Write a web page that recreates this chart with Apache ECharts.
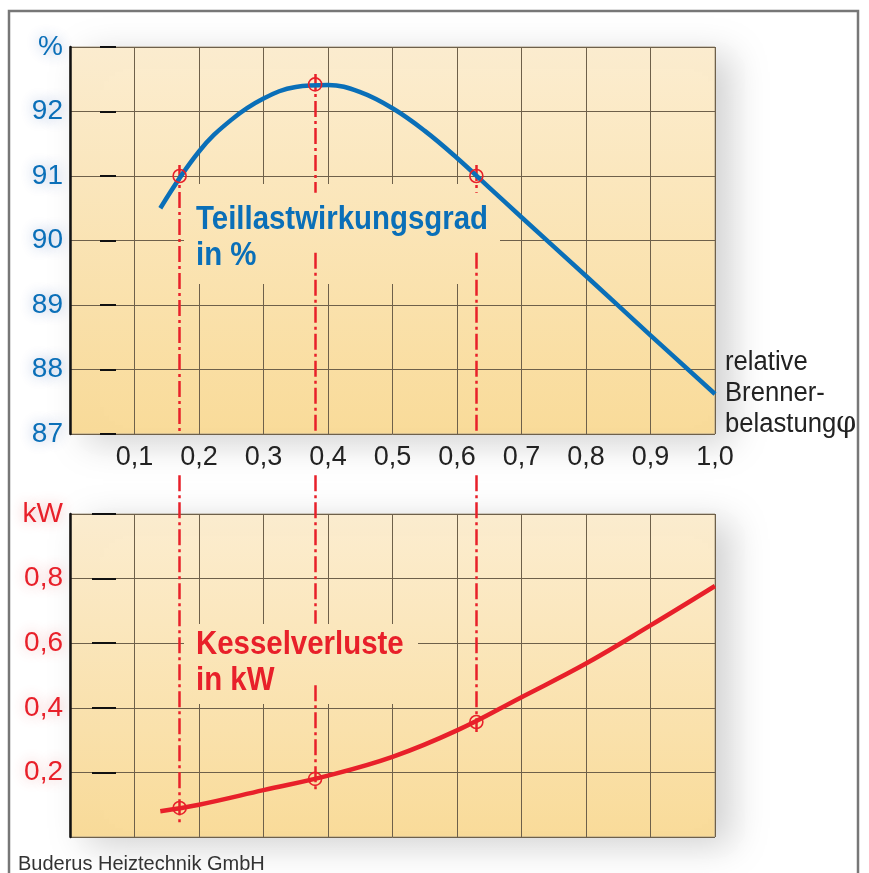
<!DOCTYPE html>
<html>
<head>
<meta charset="utf-8">
<script src="https://cdn.jsdelivr.net/npm/echarts@6/dist/echarts.min.js"></script>
<style>
  html, body { margin: 0; padding: 0; background: #fff; }
  #chart { width: 869px; height: 873px; }
</style>
</head>
<body>
<div id="chart"></div>
<script>
// Teillastwirkungsgrad in % über relative Brennerbelastung
const effX = [0.14, 0.2, 0.25, 0.3, 0.35, 0.4, 0.45, 0.5, 0.55, 0.6, 0.65, 0.7, 0.8, 0.9, 1.0]
const effY = [90.5, 91.38, 91.87, 92.2, 92.38, 92.41, 92.3, 92.05, 91.7, 91.28, 90.82, 90.36, 89.45, 88.53, 87.62]
// Kesselverluste in kW
const lossX = [0.14, 0.2, 0.3, 0.4, 0.5, 0.6, 0.7, 0.8, 0.9, 1.0]
const lossY = [0.08, 0.10, 0.145, 0.19, 0.248, 0.33, 0.433, 0.537, 0.655, 0.777]
// markierte Betriebspunkte
const guideX = [0.17, 0.38, 0.63]
const guideEff = [91.0, 92.42, 91.0]
const guideLoss = [0.09, 0.18, 0.356]
// Hilfslinien: Anfang oben (%), Ende unten (kW), Lücken hinter den Beschriftungen
const guideStartEff = [91.17, 92.58, 91.17]
const guideEndLoss = [0.035, 0.14, 0.325]
const gapEff = [null, [90.74, 89.81], [90.74, 89.81]]
const gapLoss = [null, [0.66, 0.47], null]
const gapStartLoss = 1.12
// kurze Striche an der kW-Achse
const lossTicks = [0.2, 0.4, 0.6, 0.8, 1.0]

const RED = '#e8202a'
const BLUE = '#0a6fb8'
const SANS = "'Liberation Sans', Arial, sans-serif"

const comma = v => v.toFixed(1).replace('.', ',')

function segs (x, from, to, gap) {
  if (!gap) return [{coords: [[x, from], [x, to]]}]
  return [{coords: [[x, from], [x, gap[0]]]}, {coords: [[x, gap[1]], [x, to]]}]
}
let topSegs = []
let botSegs = []
guideX.forEach((x, i) => {
  topSegs = topSegs.concat(segs(x, guideStartEff[i], 87, gapEff[i]))
  botSegs = botSegs.concat(segs(x, gapStartLoss, guideEndLoss[i], gapLoss[i]))
})

const BG_TOP = '#fcedd0'
const BG_BOTTOM = '#f9db99'
const plotBg = {
  type: 'linear', x: 0, y: 0, x2: 0, y2: 1,
  colorStops: [{offset: 0, color: BG_TOP}, {offset: 1, color: BG_BOTTOM}]
}
// gleicher Verlauf in Seitenkoordinaten, damit die Textfelder nahtlos liegen
function pageBg (y0, y1) {
  return {
    type: 'linear', x: 0, y: y0, x2: 0, y2: y1, global: true,
    colorStops: [{offset: 0, color: BG_TOP}, {offset: 1, color: BG_BOTTOM}]
  }
}
const dashDot = {color: RED, width: 2.5, opacity: 1, type: [16, 4, 3, 4]}
const gridLine = {lineStyle: {color: '#6e604a', width: 1}}

let myChart = echarts.init(document.getElementById('chart'))
myChart.setOption({
  backgroundColor: '#fff',
  animation: false,
  grid: [
    {left: 70, right: 154, top: 47, height: 387, show: true, backgroundColor: plotBg,
      borderColor: '#a89c86', borderWidth: 1,
      shadowColor: 'rgba(0,0,0,0.18)', shadowBlur: 34, shadowOffsetX: 16, shadowOffsetY: 8},
    {left: 70, right: 154, top: 514, height: 323, show: true, backgroundColor: plotBg,
      borderColor: '#a89c86', borderWidth: 1,
      shadowColor: 'rgba(0,0,0,0.18)', shadowBlur: 34, shadowOffsetX: 16, shadowOffsetY: 8}
  ],
  xAxis: [
    {
      gridIndex: 0, type: 'value', min: 0, max: 1, interval: 0.1,
      axisLine: {show: false}, axisTick: {show: false}, splitLine: gridLine,
      axisLabel: {
        margin: 10, fontSize: 27, color: '#222', fontFamily: SANS,
        formatter: v => (v === 0 ? '' : comma(v))
      }
    },
    {
      gridIndex: 1, type: 'value', min: 0, max: 1, interval: 0.1,
      axisLine: {show: false}, axisTick: {show: false}, splitLine: gridLine,
      axisLabel: {show: false}
    }
  ],
  yAxis: [
    {
      gridIndex: 0, type: 'value', min: 87, max: 93, interval: 1,
      axisLine: {show: true, lineStyle: {color: '#111', width: 2.5}},
      axisTick: {show: false}, splitLine: gridLine,
      axisLabel: {
        margin: 7, fontSize: 28, color: BLUE, fontFamily: SANS,
        textShadowColor: 'rgba(30,80,170,0.45)', textShadowBlur: 14,
        formatter: v => (v === 93 ? '%' : String(v))
      }
    },
    {
      gridIndex: 1, type: 'value', min: 0, max: 1, interval: 0.2,
      axisLine: {show: true, lineStyle: {color: '#111', width: 2.5}},
      axisTick: {show: false}, splitLine: gridLine,
      axisLabel: {
        margin: 7, fontSize: 28, color: RED, fontFamily: SANS,
        textShadowColor: 'rgba(220,50,50,0.4)', textShadowBlur: 14,
        formatter: v => (v === 0 ? '' : (v > 0.99 ? 'kW' : comma(v)))
      }
    },
    // kurze schwarze Striche innerhalb der Diagramme
    {
      gridIndex: 0, type: 'value', min: 87, max: 93, interval: 1, position: 'left', offset: -30,
      axisLine: {show: false}, splitLine: {show: false}, axisLabel: {show: false},
      axisTick: {show: true, inside: true, length: 16, lineStyle: {color: '#111', width: 2}}
    },
    {
      gridIndex: 1, type: 'value', min: 0, max: 1, interval: 0.2, position: 'left', offset: -22,
      axisLine: {show: false}, splitLine: {show: false}, axisLabel: {show: false},
      axisTick: {show: true, inside: true, length: 24, customValues: lossTicks,
        lineStyle: {color: '#111', width: 2}}
    }
  ],
  series: [
    {
      type: 'lines', coordinateSystem: 'cartesian2d', xAxisIndex: 0, yAxisIndex: 0,
      clip: false, z: 3, lineStyle: dashDot, data: topSegs
    },
    {
      type: 'lines', coordinateSystem: 'cartesian2d', xAxisIndex: 1, yAxisIndex: 1,
      clip: false, z: 3, lineStyle: dashDot, data: botSegs
    },
    {
      type: 'line', xAxisIndex: 0, yAxisIndex: 0, smooth: 0.4, symbol: 'none', z: 4,
      lineStyle: {color: BLUE, width: 4.5},
      data: effX.map((x, i) => [x, effY[i]])
    },
    {
      type: 'line', xAxisIndex: 1, yAxisIndex: 1, smooth: 0.4, symbol: 'none', z: 4,
      lineStyle: {color: RED, width: 4.5},
      data: lossX.map((x, i) => [x, lossY[i]])
    },
    {
      type: 'scatter', xAxisIndex: 0, yAxisIndex: 0, symbol: 'circle', symbolSize: 13, z: 5,
      itemStyle: {color: 'rgba(0,0,0,0)', borderColor: RED, borderWidth: 1.6, opacity: 1},
      data: guideX.map((x, i) => [x, guideEff[i]])
    },
    {
      type: 'scatter', xAxisIndex: 1, yAxisIndex: 1, symbol: 'circle', symbolSize: 13, z: 5,
      itemStyle: {color: 'rgba(0,0,0,0)', borderColor: RED, borderWidth: 1.6, opacity: 1},
      data: guideX.map((x, i) => [x, guideLoss[i]])
    }
  ],
  graphic: [
    {
      type: 'rect', z: -1, silent: true,
      shape: {x: 9, y: 11, width: 849, height: 900},
      style: {fill: 'none', stroke: '#777', lineWidth: 2.5}
    },
    {
      type: 'rect', z: 1, silent: true,
      shape: {x: 184, y: 184, width: 316, height: 100},
      style: {fill: pageBg(47, 434)}
    },
    {
      type: 'rect', z: 1, silent: true,
      shape: {x: 184, y: 624, width: 234, height: 80},
      style: {fill: pageBg(514, 837)}
    },
    {
      type: 'text', z: 10, x: 196, y: 202, scaleX: 0.865,
      style: {
        text: 'Teillastwirkungsgrad\nin %', fill: BLUE, verticalAlign: 'top',
        font: 'bold 34px ' + SANS, lineHeight: 36
      }
    },
    {
      type: 'text', z: 10, x: 196, y: 627, scaleX: 0.865,
      style: {
        text: 'Kesselverluste\nin kW', fill: RED, verticalAlign: 'top',
        font: 'bold 34px ' + SANS, lineHeight: 36
      }
    },
    {
      type: 'text', z: 10, x: 725, y: 347, scaleX: 0.95,
      style: {
        text: 'relative\nBrenner-\nbelastung{phi|φ}', fill: '#222', verticalAlign: 'top',
        font: '27px ' + SANS, lineHeight: 31,
        rich: {phi: {fontFamily: 'DejaVu Serif', fontSize: 30, fill: '#222'}}
      }
    },
    {
      type: 'text', z: 10, x: 18, y: 854,
      style: {text: 'Buderus Heiztechnik GmbH', fill: '#333', verticalAlign: 'top', font: '20px ' + SANS}
    }
  ]
})
</script>
</body>
</html>
